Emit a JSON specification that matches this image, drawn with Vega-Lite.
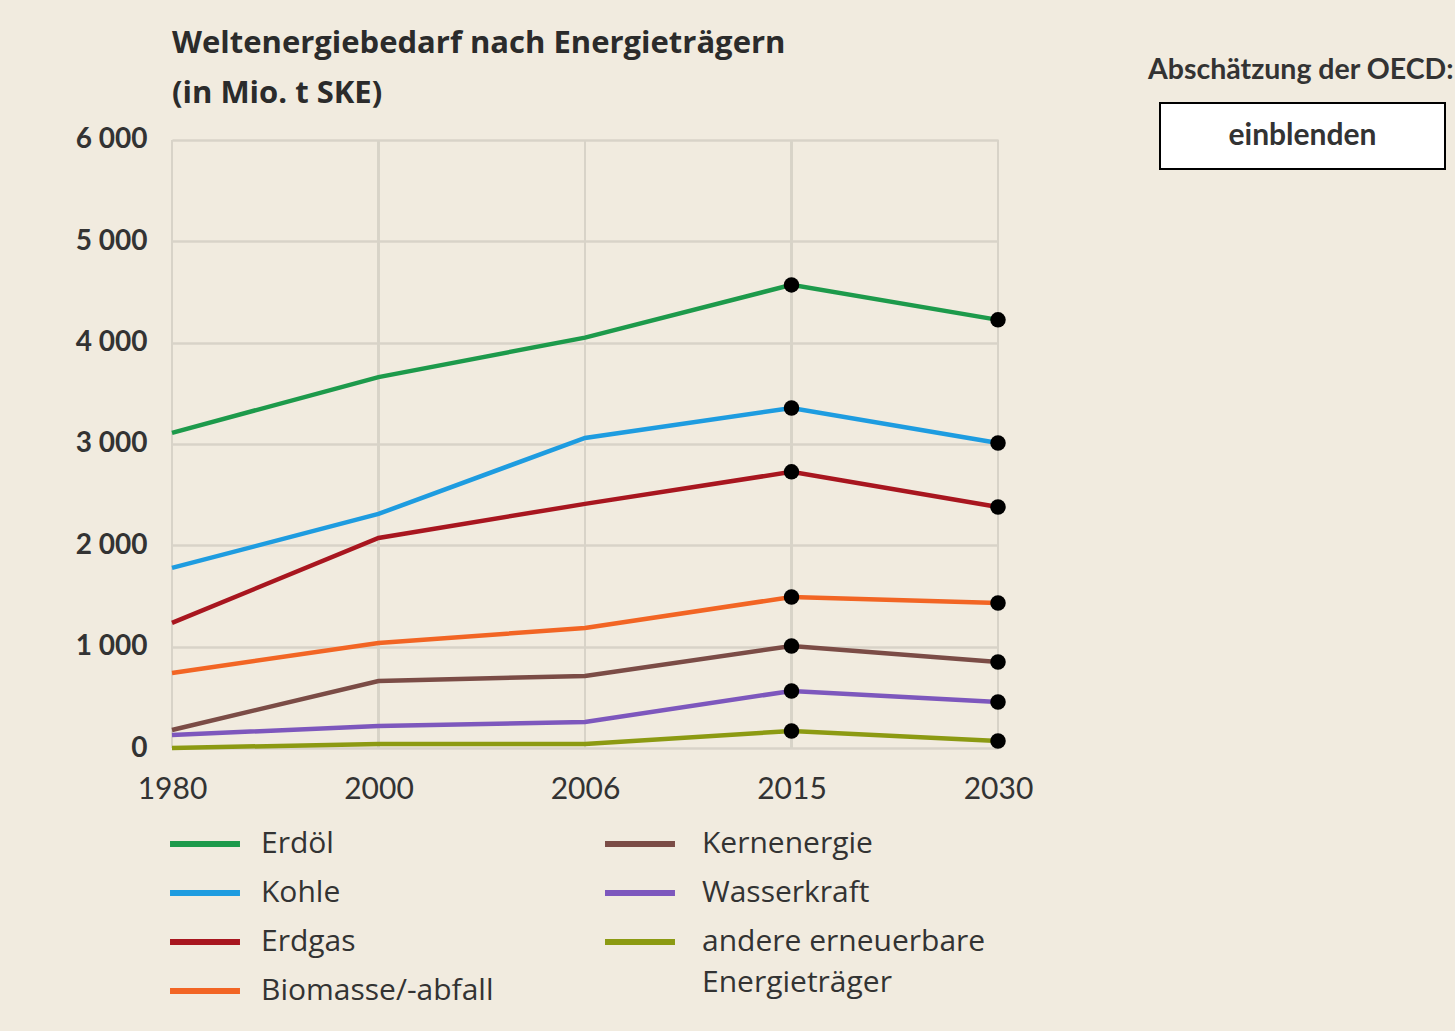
{
  "$schema": "https://vega.github.io/schema/vega-lite/v6.json",
  "background": "#f1ebdf",
  "padding": {"left": 75, "top": 28, "right": 5, "bottom": 30},
  "config": {
    "view": {"stroke": null},
    "font": "Lato",
    "concat": {"spacing": 114}
  },
  "datasets": {
    "energie": [
      {"jahr": "1980", "traeger": "Erdöl", "wert": 3110},
      {"jahr": "2000", "traeger": "Erdöl", "wert": 3660},
      {"jahr": "2006", "traeger": "Erdöl", "wert": 4050},
      {"jahr": "2015", "traeger": "Erdöl", "wert": 4570},
      {"jahr": "2030", "traeger": "Erdöl", "wert": 4225},
      {"jahr": "1980", "traeger": "Kohle", "wert": 1777},
      {"jahr": "2000", "traeger": "Kohle", "wert": 2310},
      {"jahr": "2006", "traeger": "Kohle", "wert": 3060},
      {"jahr": "2015", "traeger": "Kohle", "wert": 3356},
      {"jahr": "2030", "traeger": "Kohle", "wert": 3010},
      {"jahr": "1980", "traeger": "Erdgas", "wert": 1234},
      {"jahr": "2000", "traeger": "Erdgas", "wert": 2073},
      {"jahr": "2006", "traeger": "Erdgas", "wert": 2409},
      {"jahr": "2015", "traeger": "Erdgas", "wert": 2725},
      {"jahr": "2030", "traeger": "Erdgas", "wert": 2379},
      {"jahr": "1980", "traeger": "Biomasse/-abfall", "wert": 740},
      {"jahr": "2000", "traeger": "Biomasse/-abfall", "wert": 1036},
      {"jahr": "2006", "traeger": "Biomasse/-abfall", "wert": 1185},
      {"jahr": "2015", "traeger": "Biomasse/-abfall", "wert": 1490},
      {"jahr": "2030", "traeger": "Biomasse/-abfall", "wert": 1431},
      {"jahr": "1980", "traeger": "Kernenergie", "wert": 178},
      {"jahr": "2000", "traeger": "Kernenergie", "wert": 661},
      {"jahr": "2006", "traeger": "Kernenergie", "wert": 711},
      {"jahr": "2015", "traeger": "Kernenergie", "wert": 1007},
      {"jahr": "2030", "traeger": "Kernenergie", "wert": 849},
      {"jahr": "1980", "traeger": "Wasserkraft", "wert": 128},
      {"jahr": "2000", "traeger": "Wasserkraft", "wert": 217},
      {"jahr": "2006", "traeger": "Wasserkraft", "wert": 257},
      {"jahr": "2015", "traeger": "Wasserkraft", "wert": 563},
      {"jahr": "2030", "traeger": "Wasserkraft", "wert": 454},
      {"jahr": "1980", "traeger": "andere erneuerbare Energieträger", "wert": 0},
      {"jahr": "2000", "traeger": "andere erneuerbare Energieträger", "wert": 40},
      {"jahr": "2006", "traeger": "andere erneuerbare Energieträger", "wert": 40},
      {"jahr": "2015", "traeger": "andere erneuerbare Energieträger", "wert": 168},
      {"jahr": "2030", "traeger": "andere erneuerbare Energieträger", "wert": 69}
    ],
    "knopf": [{"text": "einblenden"}]
  },
  "hconcat": [
    {
      "width": 826,
      "height": 645,
      "title": {
        "text": ["Weltenergiebedarf nach Energieträgern", "(in Mio. t SKE)"],
        "anchor": "start",
        "frame": "group",
        "font": "Open Sans",
        "fontSize": 31,
        "fontWeight": "bold",
        "color": "#2b2b2b",
        "lineHeight": 50,
        "offset": -7
      },
      "data": {"name": "energie"},
      "encoding": {
        "x": {
          "field": "jahr",
          "type": "ordinal",
          "scale": {"type": "point", "padding": 0},
          "axis": {
            "title": null,
            "domain": false,
            "ticks": false,
            "grid": false,
            "labelAngle": 0,
            "labelFont": "Lato",
            "labelFontSize": 30,
            "labelColor": "#333333",
            "labelPadding": 26
          }
        }
      },
      "layer": [
        {
          "mark": {"type": "rule", "color": "#d8d3c8", "strokeWidth": 2},
          "encoding": {
            "y": {
              "datum": 0,
              "type": "quantitative",
              "scale": {"domain": [0, 6365], "nice": false},
              "axis": {
                "title": null,
                "domain": false,
                "ticks": false,
                "values": [0, 1000, 2000, 3000, 4000, 5000, 6000],
                "labelExpr": "replace(format(datum.value, ','), ',', ' ')",
                "labelFont": "Lato",
                "labelFontSize": 28,
                "labelFontWeight": "bold",
                "labelColor": "#333333",
                "labelPadding": 25,
                "grid": true,
                "gridColor": "#d8d3c8",
                "gridWidth": 2.5
              }
            },
            "y2": {"datum": 6000}
          }
        },
        {
          "transform": [{"filter": {"field": "traeger", "oneOf": ["Erdöl", "Kohle", "Erdgas", "Biomasse/-abfall"]}}],
          "mark": {"type": "line", "strokeWidth": 4.5},
          "encoding": {
            "y": {"field": "wert", "type": "quantitative"},
            "color": {
              "field": "traeger",
              "type": "nominal",
              "scale": {
                "domain": ["Erdöl", "Kohle", "Erdgas", "Biomasse/-abfall"],
                "range": ["#1d9a4b", "#1e9ce0", "#a8161f", "#f26524"]
              },
              "legend": {
                "title": null,
                "orient": "none",
                "legendX": 18,
                "legendY": 726,
                "direction": "vertical",
                "padding": 0,
                "rowPadding": 19,
                "symbolType": "M-3,0H3",
                "symbolSize": 544,
                "symbolStrokeWidth": 6,
                "labelOffset": 41,
                "labelFont": "Open Sans",
                "labelFontSize": 30,
                "labelColor": "#333333",
                "labelLimit": 400
              }
            }
          }
        },
        {
          "transform": [{"filter": {"field": "traeger", "oneOf": ["Kernenergie", "Wasserkraft", "andere erneuerbare Energieträger"]}}],
          "mark": {"type": "line", "strokeWidth": 4.5},
          "encoding": {
            "y": {"field": "wert", "type": "quantitative"},
            "color": {
              "field": "traeger",
              "type": "nominal",
              "scale": {
                "domain": ["Kernenergie", "Wasserkraft", "andere erneuerbare Energieträger"],
                "range": ["#7b4c46", "#7d57bd", "#8c9a12"]
              },
              "legend": {
                "title": null,
                "orient": "none",
                "legendX": 453,
                "legendY": 726,
                "direction": "vertical",
                "padding": 0,
                "rowPadding": 19,
                "symbolType": "M-3,0H3",
                "symbolSize": 544,
                "symbolStrokeWidth": 6,
                "labelOffset": 47,
                "labelFont": "Open Sans",
                "labelFontSize": 30,
                "labelColor": "#333333",
                "labelLimit": 400,
                "labelExpr": "datum.label == 'andere erneuerbare Energieträger' ? ['andere erneuerbare', 'Energieträger'] : datum.label",
                "encode": {"labels": {"update": {"lineHeight": {"value": 41}}}}
              }
            }
          }
        },
        {
          "transform": [{"filter": {"field": "jahr", "oneOf": ["2015", "2030"]}}],
          "mark": {"type": "circle", "size": 240, "opacity": 1, "color": "#000000"},
          "encoding": {"y": {"field": "wert", "type": "quantitative"}}
        }
      ],
      "resolve": {"scale": {"color": "independent"}}
    },
    {
      "width": 285,
      "height": 66,
      "view": {"fill": "#ffffff", "stroke": "#000000", "strokeWidth": 2},
      "title": {
        "text": "Abschätzung der OECD:",
        "anchor": "start",
        "frame": "group",
        "dx": -12,
        "font": "Lato",
        "fontSize": 28.5,
        "fontWeight": "bold",
        "color": "#333333",
        "offset": 19
      },
      "data": {"name": "knopf"},
      "mark": {"type": "text", "font": "Lato", "fontSize": 30, "fontWeight": "bold", "color": "#333333"},
      "encoding": {
        "text": {"field": "text"},
        "x": {"field": "text", "type": "nominal", "axis": null},
        "y": {"field": "text", "type": "nominal", "axis": null}
      }
    }
  ],
  "resolve": {"scale": {"color": "independent"}}
}
